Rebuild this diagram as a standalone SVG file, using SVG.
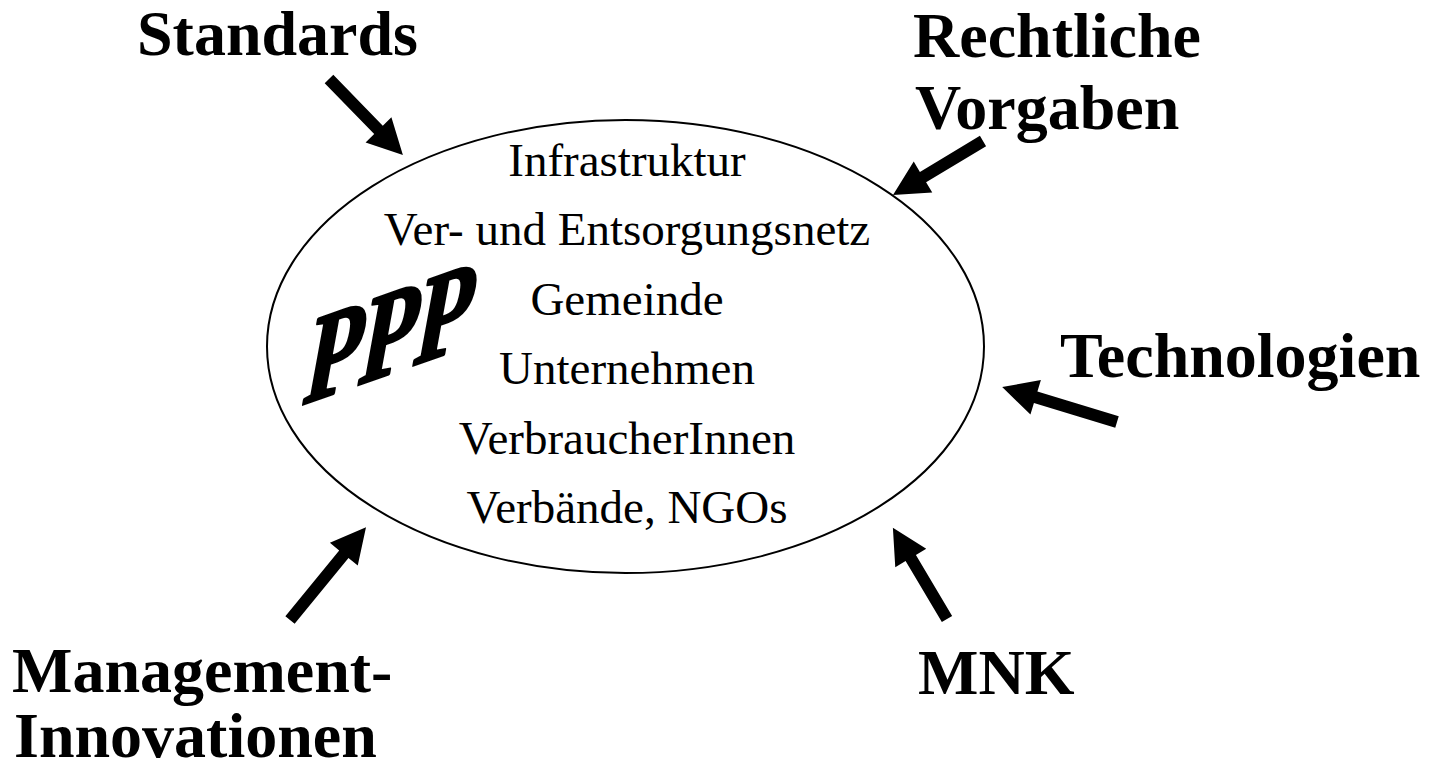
<svg xmlns="http://www.w3.org/2000/svg" width="1431" height="771" viewBox="0 0 1431 771">
<style>
.lbl{font-family:"Liberation Serif","Times New Roman",serif;font-weight:bold;font-size:64px;fill:#000}
.item{font-family:"Liberation Serif","Times New Roman",serif;font-size:47px;fill:#000;text-anchor:middle}
.ppp{font-family:"Liberation Serif","Times New Roman",serif;font-weight:bold;font-size:122px;fill:#000;stroke:#000;stroke-width:3;stroke-linejoin:round}
.arr{fill:#000;stroke:none}
</style>
<rect width="1431" height="771" fill="#fff"/>
<g id="ppp-node">
<ellipse cx="625.5" cy="346.5" rx="358.5" ry="226.5" fill="none" stroke="#000" stroke-width="2"/>
<text class="ppp" transform="translate(301,405) skewY(-19.5) skewX(-11) scale(0.74,1)">PPP</text>
<text class="item" x="627" y="176">Infrastruktur</text>
<text class="item" x="627" y="245">Ver- und Entsorgungsnetz</text>
<text class="item" x="627" y="315">Gemeinde</text>
<text class="item" x="627" y="384">Unternehmen</text>
<text class="item" x="627" y="454">VerbraucherInnen</text>
<text class="item" x="627" y="523">Verbände, NGOs</text>
</g>
<g id="standards"><text class="lbl" x="137" y="55">Standards</text></g>
<g id="rechtliche"><text class="lbl" x="913" y="57">Rechtliche</text><text class="lbl" x="915" y="129">Vorgaben</text></g>
<g id="technologien"><text class="lbl" x="1060" y="377">Technologien</text></g>
<g id="management"><text class="lbl" x="12" y="692">Management-</text><text class="lbl" x="14" y="757">Innovationen</text></g>
<g id="mnk"><text class="lbl" x="918" y="694">MNK</text></g>
<g id="connectors">
<path class="arr" transform="translate(329,79) rotate(45.8)" d="M0,-6 H71 V-18 L106,0 L71,18 V6 H0 Z"/>
<path class="arr" transform="translate(983,141) rotate(149)" d="M0,-6 H70 V-18 L105,0 L70,18 V6 H0 Z"/>
<path class="arr" transform="translate(1117,422) rotate(-163.1)" d="M0,-6 H85 V-18 L120,0 L85,18 V6 H0 Z"/>
<path class="arr" transform="translate(290,620) rotate(-50.7)" d="M0,-6 H85 V-18 L120,0 L85,18 V6 H0 Z"/>
<path class="arr" transform="translate(947,619) rotate(-120.7)" d="M0,-6 H71 V-18 L106,0 L71,18 V6 H0 Z"/>
</g>
</svg>
